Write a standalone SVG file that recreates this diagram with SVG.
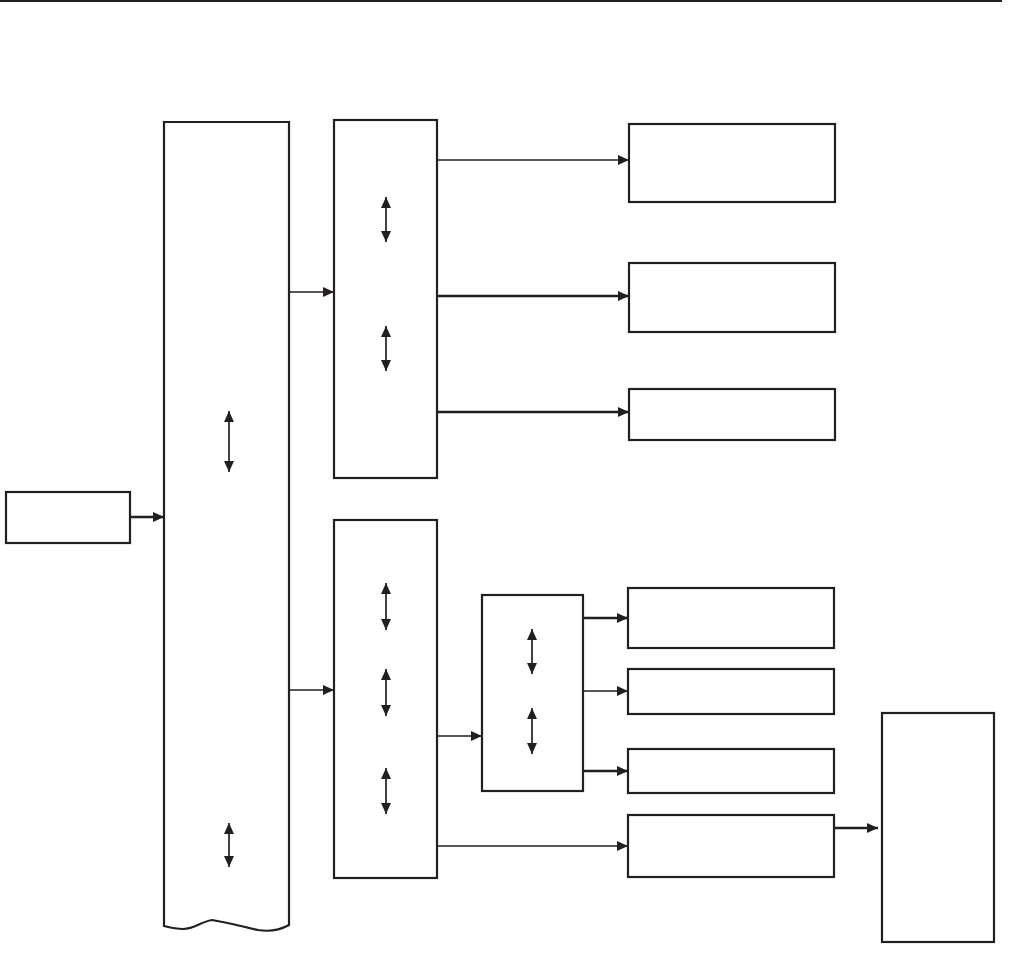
<svg xmlns="http://www.w3.org/2000/svg" width="1010" height="973" viewBox="0 0 1010 973">
<style>
.box{fill:#fff;stroke:#231f20;stroke-width:2.2}
.thin{stroke:#231f20;stroke-width:1.4;fill:none}
.thick{stroke:#231f20;stroke-width:2.4;fill:none}
.dbl{stroke:#231f20;stroke-width:1.7;fill:none}
</style>
<defs>
<marker id="ah" markerUnits="userSpaceOnUse" markerWidth="11" markerHeight="11" refX="11" refY="5.5" orient="auto" viewBox="0 0 11 11">
<path d="M0,0.5 L11,5.5 L0,10.5 Z" fill="#231f20"/>
</marker>
<marker id="dh" markerUnits="userSpaceOnUse" markerWidth="11" markerHeight="10" refX="11" refY="5" orient="auto-start-reverse" viewBox="0 0 11 10">
<path d="M0,0 L11,5 L0,10 Z" fill="#231f20"/>
</marker>
</defs>
<line x1="0" y1="1" x2="1002" y2="1" stroke="#231f20" stroke-width="2"/>
<g id="input"><rect class="box" x="6" y="492" width="124" height="51"/></g>
<g id="main"><path class="box" d="M164,122 L289,122 L289,925 C280,930 270,932 258,930 C240,926 225,922 212,920 C200,922 195,929 183,929 C175,929 168,927 164,926 Z"/></g>
<g id="upper"><rect class="box" x="334" y="120" width="103" height="358"/></g>
<g id="lower"><rect class="box" x="334" y="520" width="103" height="358"/></g>
<g id="inner"><rect class="box" x="482" y="595" width="101" height="196"/></g>
<g id="r1"><rect class="box" x="629" y="124" width="206" height="78"/></g>
<g id="r2"><rect class="box" x="629" y="263" width="206" height="69"/></g>
<g id="r3"><rect class="box" x="629" y="389" width="206" height="51"/></g>
<g id="r4"><rect class="box" x="628" y="588" width="206" height="60"/></g>
<g id="r5"><rect class="box" x="628" y="669" width="206" height="45"/></g>
<g id="r6"><rect class="box" x="628" y="749" width="206" height="44"/></g>
<g id="r7"><rect class="box" x="628" y="815" width="206" height="62"/></g>
<g id="far"><rect class="box" x="882" y="713" width="112" height="229"/></g>
<g id="connectors">
<line class="thick" x1="130" y1="517" x2="164" y2="517" marker-end="url(#ah)"/>
<line class="thin" x1="289" y1="292" x2="334" y2="292" marker-end="url(#ah)"/>
<line class="thin" x1="289" y1="690" x2="334" y2="690" marker-end="url(#ah)"/>
<line class="thin" x1="437" y1="160" x2="629" y2="160" marker-end="url(#ah)"/>
<line class="thick" x1="437" y1="296" x2="629" y2="296" marker-end="url(#ah)"/>
<line class="thick" x1="437" y1="412" x2="629" y2="412" marker-end="url(#ah)"/>
<line class="thin" x1="437" y1="736" x2="482" y2="736" marker-end="url(#ah)"/>
<line class="thick" x1="583" y1="618" x2="628" y2="618" marker-end="url(#ah)"/>
<line class="thin" x1="583" y1="691" x2="628" y2="691" marker-end="url(#ah)"/>
<line class="thick" x1="583" y1="771" x2="628" y2="771" marker-end="url(#ah)"/>
<line class="thin" x1="437" y1="846" x2="628" y2="846" marker-end="url(#ah)"/>
<line class="thick" x1="834" y1="828" x2="878" y2="828" marker-end="url(#ah)"/>
<line class="dbl" x1="229" y1="411" x2="229" y2="472" marker-start="url(#dh)" marker-end="url(#dh)"/>
<line class="dbl" x1="229" y1="823" x2="229" y2="867" marker-start="url(#dh)" marker-end="url(#dh)"/>
<line class="dbl" x1="386" y1="197" x2="386" y2="242" marker-start="url(#dh)" marker-end="url(#dh)"/>
<line class="dbl" x1="386" y1="326" x2="386" y2="371" marker-start="url(#dh)" marker-end="url(#dh)"/>
<line class="dbl" x1="386" y1="583" x2="386" y2="630" marker-start="url(#dh)" marker-end="url(#dh)"/>
<line class="dbl" x1="386" y1="669" x2="386" y2="716" marker-start="url(#dh)" marker-end="url(#dh)"/>
<line class="dbl" x1="386" y1="768" x2="386" y2="814" marker-start="url(#dh)" marker-end="url(#dh)"/>
<line class="dbl" x1="532" y1="629" x2="532" y2="674" marker-start="url(#dh)" marker-end="url(#dh)"/>
<line class="dbl" x1="532" y1="708" x2="532" y2="754" marker-start="url(#dh)" marker-end="url(#dh)"/>
</g>
</svg>
